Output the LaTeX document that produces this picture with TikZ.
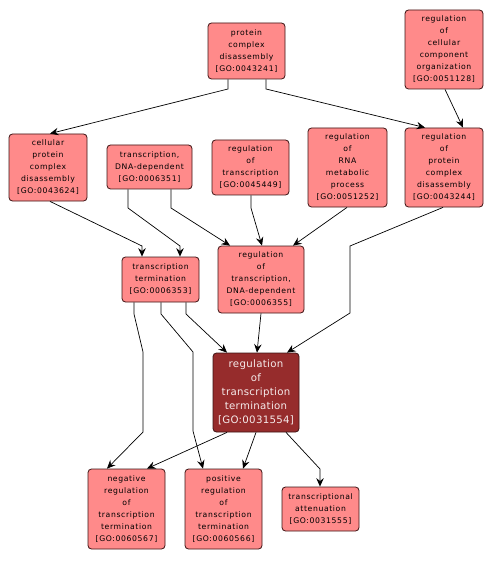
\documentclass[tikz,border=0pt]{standalone}
\usepackage{fontspec}
\setmainfont{DejaVu Sans}
\newfontfamily\smallgo[LetterSpace=8]{DejaVu Sans}
\newfontfamily\biggo[LetterSpace=3]{DejaVu Sans}
\usetikzlibrary{arrows.meta}
\definecolor{golight}{RGB}{255,138,138}
\definecolor{godark}{RGB}{150,44,44}
\definecolor{goborder}{RGB}{60,20,20}
\tikzset{
  gn/.style={draw=goborder, line width=0.8pt, fill=golight, rounded corners=3.5pt,
    align=center, inner sep=0pt, font=\smallgo\fontsize{7.7}{12}\selectfont, text=black},
  gdark/.style={gn, fill=godark, text={rgb,255:red,245;green,235;blue,235},
    font=\biggo\fontsize{10.2}{14}\selectfont},
  conn/.style={draw=black, line width=0.7pt,
    -{Stealth[length=8.5pt,width=7.5pt,inset=3pt]}},
}
\begin{document}
\begin{tikzpicture}[x=1pt,y=-1pt]
\useasboundingbox[fill=white] (0,0) rectangle (494,561);

\node[gn, minimum width=77, minimum height=56] (pcd) at (246.5,51)
  {protein\\complex\\disassembly\\{[GO:0043241]}};
\node[gn, minimum width=78, minimum height=79] (rccco) at (444,49.5)
  {regulation\\of\\cellular\\component\\organization\\{[GO:0051128]}};
\node[gn, minimum width=78, minimum height=67] (cpcd) at (48,167.5)
  {cellular\\protein\\complex\\disassembly\\{[GO:0043624]}};
\node[gn, minimum width=85, minimum height=44] (tdd) at (149.5,167)
  {transcription,\\DNA-dependent\\{[GO:0006351]}};
\node[gn, minimum width=77, minimum height=55] (rot) at (250.5,167.5)
  {regulation\\of\\transcription\\{[GO:0045449]}};
\node[gn, minimum width=79, minimum height=79] (rrmp) at (347.5,167.5)
  {regulation\\of\\RNA\\metabolic\\process\\{[GO:0051252]}};
\node[gn, minimum width=78, minimum height=79] (rpcd) at (444,167.5)
  {regulation\\of\\protein\\complex\\disassembly\\{[GO:0043244]}};
\node[gn, minimum width=86, minimum height=67] (rtdd) at (261,279.5)
  {regulation\\of\\transcription,\\DNA-dependent\\{[GO:0006355]}};
\node[gn, minimum width=77, minimum height=45] (tt) at (160.5,279.5)
  {transcription\\termination\\{[GO:0006353]}};
\node[gdark, minimum width=86, minimum height=79] (rtt) at (256,392.5)
  {regulation\\of\\transcription\\termination\\{[GO:0031554]}};
\node[gn, minimum width=77, minimum height=80] (neg) at (126.5,509)
  {negative\\regulation\\of\\transcription\\termination\\{[GO:0060567]}};
\node[gn, minimum width=77, minimum height=80] (pos) at (223.5,509)
  {positive\\regulation\\of\\transcription\\termination\\{[GO:0060566]}};
\node[gn, minimum width=77, minimum height=44] (ta) at (320.5,509)
  {transcriptional\\attenuation\\{[GO:0031555]}};

% connectors
\draw[conn] ([xshift=-18.5pt]pcd.south) -- (228,89) -- ([xshift=2pt]cpcd.north);
\draw[conn] ([xshift=19.5pt]pcd.south) -- (266,89) -- ([xshift=-19pt]rpcd.north);
\draw[conn] ([xshift=1pt]rccco.south) -- ([xshift=19pt]rpcd.north);
\draw[conn] ([xshift=2pt]cpcd.south) -- (142,246) -- ([xshift=-18.5pt]tt.north);
\draw[conn] ([xshift=-21.5pt]tdd.south) -- (128,208) -- (180,246) -- ([xshift=19.5pt]tt.north);
\draw[conn] ([xshift=21.5pt]tdd.south) -- (171,208) -- ([xshift=-31pt]rtdd.north);
\draw[conn] ([xshift=0.5pt]rot.south) -- (251,208) -- ([xshift=1pt]rtdd.north);
\draw[conn] ([xshift=-0.5pt]rrmp.south) -- ([xshift=32pt]rtdd.north);
\draw[conn] ([xshift=-1pt]rpcd.south) -- (350,246) -- (350,313) -- ([xshift=31pt]rtt.north);
\draw[conn] ([xshift=25.5pt]tt.south) -- (186,314) -- ([xshift=-29pt]rtt.north);
\draw[conn] ([xshift=0.5pt]tt.south) -- (161,314) -- (193,352) -- (193,431) -- ([xshift=-20.5pt]pos.north);
\draw[conn] ([xshift=-26.5pt]tt.south) -- (134,314) -- (143,352) -- (143,432) -- ([xshift=-19.5pt]neg.north);
\draw[conn] (rtdd.south) -- ([xshift=1pt]rtt.north);
\draw[conn] ([xshift=-29pt]rtt.south) -- ([xshift=20.5pt]neg.north);
\draw[conn] (rtt.south) -- ([xshift=19.5pt]pos.north);
\draw[conn] ([xshift=30pt]rtt.south) -- (320,469) -- ([xshift=-0.5pt]ta.north);
\end{tikzpicture}
\end{document}
